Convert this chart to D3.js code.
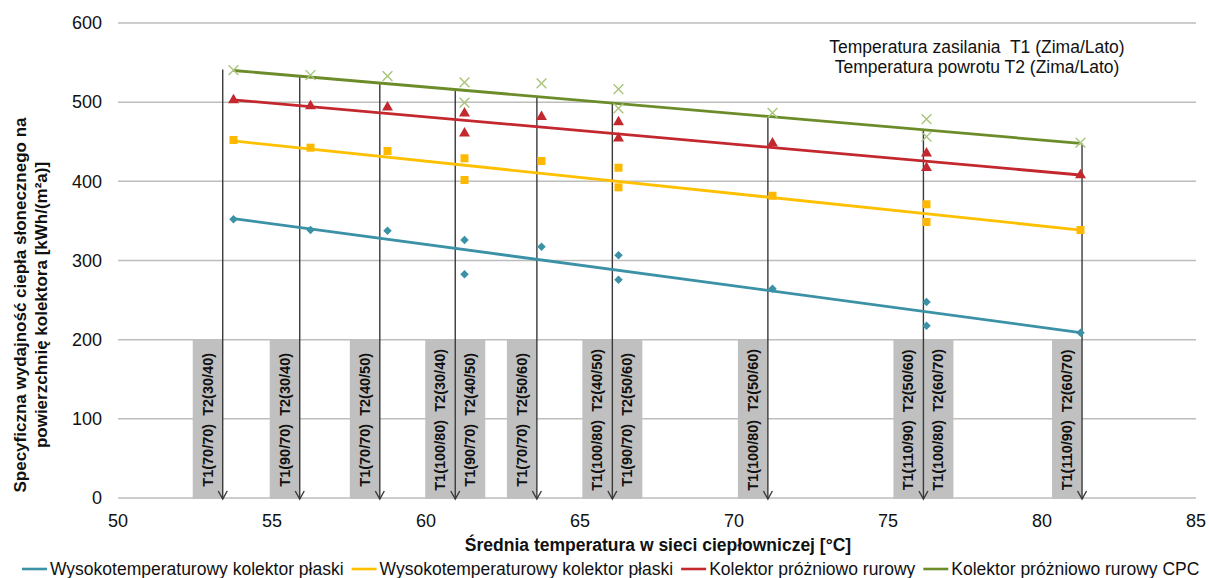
<!DOCTYPE html>
<html><head><meta charset="utf-8">
<script src="https://cdn.jsdelivr.net/npm/d3@7"></script>
<style>
body{margin:0;background:#fff}
svg{display:block}
text{font-family:"Liberation Sans",Arial,sans-serif;fill:#111}
</style>
</head><body>
<svg id="c" width="1209" height="578"></svg>
<script>
// ---------- data ----------
const xTicks = [50, 55, 60, 65, 70, 75, 80, 85];
const yTicks = [0, 100, 200, 300, 400, 500, 600];
const temps = [53.75, 56.25, 58.75, 61.25, 61.25, 63.75, 66.25, 66.25, 71.25, 76.25, 76.25, 81.25];
const seriesNames = ["Wysokotemperaturowy kolektor płaski", "Wysokotemperaturowy kolektor płaski", "Kolektor próżniowo rurowy", "Kolektor próżniowo rurowy CPC"];
const flatA = [352, 338.5, 337.7, 325.9, 282.6, 317.4, 306.5, 275.7, 264.4, 247.6, 217.6, 208.8];
const flatB = [452.2, 442.5, 438.3, 429.1, 401.7, 425.7, 417.2, 392.4, 381.8, 371, 348.6, 338.5];
const tube = [502.7, 495, 493.4, 485.8, 460.6, 481.6, 474.9, 454.3, 448, 435.4, 417.2, 408];
const tubeCPC = [540.6, 534.3, 533, 525, 499.3, 523.8, 516.6, 492.2, 486.5, 478.7, 456.4, 448.8];
// trend lines (read at first and last temperature)
const trendTemps = [53.75, 81.25];
const trendFlatA = [353, 209];
const trendFlatB = [451, 338.5];
const trendTube = [503, 408];
const trendCPC = [540, 448];
// annotations
const arrowTemps = [53.4, 55.9, 58.5, 60.95, 63.6, 66.05, 71.1, 76.15, 81.3];
const leftLabels = ["T1(70/70)  T2(30/40)", "T1(90/70)  T2(30/40)", "T1(70/70)  T2(40/50)", "T1(100/80)  T2(30/40)", "T1(70/70)  T2(50/60)", "T1(100/80)  T2(40/50)", "T1(100/80)  T2(50/60)", "T1(110/90)  T2(50/60)", "T1(110/90)  T2(60/70)"];
const rightLabels = [null, null, null, "T1(90/70)  T2(40/50)", null, "T1(90/70)  T2(50/60)", null, "T1(100/80)  T2(60/70)", null];
const boxTopValue = 200;
const noteLines = ["Temperatura zasilania  T1 (Zima/Lato)", "Temperatura powrotu T2 (Zima/Lato)"];
const xTitle = "Średnia temperatura w sieci ciepłowniczej [°C]";
const yTitle = ["Specyficzna wydajność ciepła słonecznego na", "powierzchnię kolektora [kWh/(m²a)]"];

// ---------- chart ----------
const svg = d3.select("#c");
const x = d3.scaleLinear().domain([50, 85]).range([118, 1196]);
const y = d3.scaleLinear().domain([0, 600]).range([498, 23]);

const colors = ["#3b91a5", "#ffc000", "#c3282f", "#6c8c2a"];
const markerColors = ["#3b91a5", "#ffb800", "#c3282f", "#a8c57a"];
const series = [flatA, flatB, tube, tubeCPC];
const trends = [trendFlatA, trendFlatB, trendTube, trendCPC];

// gridlines
svg.append("g").selectAll("line").data(yTicks).join("line")
  .attr("x1", x(50)).attr("x2", x(85))
  .attr("y1", d => y(d)).attr("y2", d => y(d))
  .attr("stroke", "#bdbdbd").attr("stroke-width", 1.5);

// y tick labels
svg.append("g").selectAll("text").data(yTicks).join("text")
  .attr("x", 102).attr("y", d => y(d)).attr("dy", "0.35em")
  .attr("text-anchor", "end").style("font-size", "18px").text(d => d);

// x tick labels
svg.append("g").selectAll("text").data(xTicks).join("text")
  .attr("x", d => x(d)).attr("y", 521).attr("dy", "0.35em")
  .attr("text-anchor", "middle").style("font-size", "18px").text(d => d);

// grey label boxes
const boxW = 30;
const boxes = [];
arrowTemps.forEach((t, i) => {
  boxes.push({x0: x(t) - boxW, label: leftLabels[i]});
  if (rightLabels[i]) boxes.push({x0: x(t), label: rightLabels[i]});
});
const bg = svg.append("g");
bg.selectAll("rect").data(boxes).join("rect")
  .attr("x", d => d.x0).attr("y", y(boxTopValue))
  .attr("width", boxW).attr("height", y(0) - y(boxTopValue) + 1)
  .attr("fill", "#c0c0c0");
const midY = (y(0) + y(boxTopValue)) / 2 + 1;
bg.selectAll("text").data(boxes).join("text")
  .attr("transform", d => `translate(${d.x0 + boxW / 2},${midY}) rotate(-90)`)
  .attr("text-anchor", "middle").attr("dy", "0.35em")
  .style("font-size", "14.5px").style("font-weight", "bold")
  .attr("xml:space", "preserve").style("white-space", "pre")
  .text(d => d.label);

// arrows from CPC trend line down to axis
const cpcTrend = d3.scaleLinear().domain(trendTemps).range(trendCPC);
const ag = svg.append("g").attr("stroke", "#3a3a3a").attr("stroke-width", 1.4).attr("fill", "none");
arrowTemps.forEach(t => {
  const ax = x(t), top = y(cpcTrend(t)), bot = y(0) + 1;
  ag.append("line").attr("x1", ax).attr("x2", ax).attr("y1", top).attr("y2", bot);
  ag.append("path").attr("d", `M${ax - 4.5},${bot - 8}L${ax},${bot}L${ax + 4.5},${bot - 8}`);
});

// trend lines
series.forEach((s, i) => {
  svg.append("line")
    .attr("x1", x(trendTemps[0])).attr("y1", y(trends[i][0]))
    .attr("x2", x(trendTemps[1])).attr("y2", y(trends[i][1]))
    .attr("stroke", colors[i]).attr("stroke-width", 2.8);
});

// markers
const symTypes = [d3.symbolDiamond2, d3.symbolSquare, d3.symbolTriangle, d3.symbolX];
const symSizes = [46, 64, 52, 64];
series.forEach((s, i) => {
  const g = svg.append("g");
  const sym = d3.symbol().type(symTypes[i]).size(symSizes[i]);
  g.selectAll("path").data(s).join("path")
    .attr("transform", (d, j) => `translate(${x(temps[j])},${y(d)})`)
    .attr("d", sym)
    .attr("fill", i === 3 ? "none" : markerColors[i])
    .attr("stroke", i === 3 ? markerColors[i] : "none")
    .attr("stroke-width", i === 3 ? 1.4 : 0);
});

// note text top right
svg.append("g").selectAll("text").data(noteLines).join("text")
  .attr("x", 977).attr("y", (d, i) => 47 + i * 20).attr("dy", "0.35em")
  .attr("text-anchor", "middle").style("font-size", "17.5px")
  .attr("xml:space", "preserve").style("white-space", "pre")
  .text(d => d);

// axis titles
svg.append("text").attr("x", 658).attr("y", 545).attr("dy", "0.35em")
  .attr("text-anchor", "middle").style("font-size", "17.5px").style("font-weight", "bold")
  .text(xTitle);
svg.append("g").selectAll("text").data(yTitle).join("text")
  .attr("transform", (d, i) => `translate(${20 + i * 21},305) rotate(-90)`)
  .attr("text-anchor", "middle").attr("dy", "0.35em")
  .style("font-size", "17px").style("font-weight", "bold").text(d => d);

// legend
const lg = svg.append("g");
let lx = 22;
seriesNames.forEach((n, i) => {
  lg.append("line").attr("x1", lx).attr("x2", lx + 25).attr("y1", 569).attr("y2", 569)
    .attr("stroke", colors[i]).attr("stroke-width", 2.6);
  const t = lg.append("text").attr("x", lx + 28).attr("y", 569).attr("dy", "0.35em")
    .style("font-size", "17.5px").text(n);
  lx += 28 + t.node().getComputedTextLength() + 8;
});
</script>
</body></html>
